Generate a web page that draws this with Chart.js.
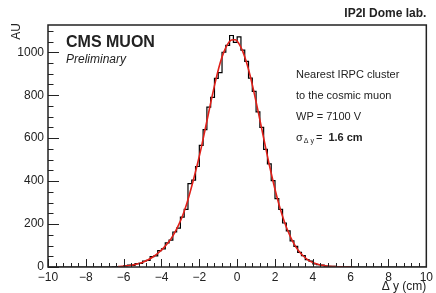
<!DOCTYPE html>
<html>
<head>
<meta charset="utf-8">
<script src="https://cdn.jsdelivr.net/npm/chart.js@4.4.1/dist/chart.umd.min.js"></script>
<style>
html, body { margin: 0; padding: 0; background: #fff; }
#wrap { width: 436px; height: 293px; position: relative; }
</style>
</head>
<body>
<div id="wrap"><canvas id="mainChart"></canvas></div>
<script>
// histogram: 100 bins of 0.2 cm from -10 to 10
const binLow = -10;
const binWidth = 0.2;
const histCounts = [
    0, 0, 0, 0, 0, 0, 0, 0, 0, 0,
    0, 0, 0, 0, 0, 0, 0, 1, 2, 1,
    5, 9, 7, 16, 17, 28, 31, 48, 52, 76,
    84, 112, 125, 163, 181, 232, 268, 388, 405, 468,
    566, 640, 745, 790, 878, 905, 1000, 1032, 1078, 1046,
    1072, 1010, 958, 880, 818, 722, 650, 548, 480, 402,
    318, 268, 205, 168, 122, 96, 68, 53, 34, 27,
    15, 11, 9, 4, 3, 3, 1, 2, 0, 1,
    0, 0, 0, 0, 0, 0, 0, 0, 0, 0,
    0, 0, 0, 0, 0, 0, 0, 0, 0, 0
];

// fitted curve, read at the bin centres from -6.3 to 6.1
const fitStart = -6.3;
const fitValues = [
    2, 3, 5, 7, 10, 14, 19, 26, 34, 44,
    56, 71, 88, 108, 131, 160, 195, 235, 285, 345,
    410, 480, 555, 638, 722, 805, 882, 950, 1002, 1038,
    1057, 1058, 1039, 1003, 951, 886, 810, 728, 643, 558,
    475, 398, 327, 264, 210, 164, 125, 94, 70, 51,
    36, 25, 17, 12, 8, 5, 3, 2, 1, 1,
    0, 0, 0
];

const xTicks = [-10, -8, -6, -4, -2, 0, 2, 4, 6, 8, 10];
const yTicks = [0, 200, 400, 600, 800, 1000];
const xMinorStep = 0.4;
const yMinorStep = 50;
const yMax = 1127;

const infoLines = ['Nearest IRPC cluster', 'to the cosmic muon', 'WP = 7100 V'];

const histPoints = histCounts.map((c, i) => ({ x: binLow + i * binWidth, y: c }));
histPoints.push({ x: binLow + histCounts.length * binWidth, y: histCounts[histCounts.length - 1] });
const fitPoints = fitValues.map((v, i) => ({ x: fitStart + i * binWidth, y: v }));

const FONT = '"Liberation Sans", Arial, Helvetica, sans-serif';
const INK = '#222';

const rootStyle = {
    id: 'rootStyle',
    afterDatasetsDraw(chart) {
        const ctx = chart.ctx;
        const a = chart.chartArea;
        const xs = chart.scales.x;
        const ys = chart.scales.y;
        ctx.save();
        ctx.strokeStyle = INK;
        ctx.lineWidth = 1;

        // inner ticks, x axis
        ctx.beginPath();
        for (let v = xs.min; v <= xs.max + 1e-6; v += xMinorStep) {
            const px = Math.round(xs.getPixelForValue(v)) + 0.5;
            const major = xTicks.some(t => Math.abs(t - v) < 1e-6);
            ctx.moveTo(px, a.bottom);
            ctx.lineTo(px, a.bottom - (major ? 8 : 4));
        }
        // inner ticks, y axis
        for (let v = 0; v <= ys.max; v += yMinorStep) {
            const py = Math.round(ys.getPixelForValue(v)) + 0.5;
            const major = yTicks.includes(v);
            ctx.moveTo(a.left, py);
            ctx.lineTo(a.left + (major ? 11 : 5.5), py);
        }
        ctx.stroke();

        // frame
        ctx.lineWidth = 1.5;
        ctx.strokeRect(a.left, a.top, a.right - a.left, a.bottom - a.top);

        ctx.fillStyle = INK;
        ctx.textBaseline = 'middle';

        // axis titles
        ctx.font = '12px ' + FONT;
        ctx.textAlign = 'right';
        ctx.fillText('\u0394 y (cm)', a.right, 287);
        ctx.save();
        ctx.translate(17, a.top - 2);
        ctx.rotate(-Math.PI / 2);
        ctx.fillText('AU', 0, 0);
        ctx.restore();

        ctx.font = 'bold 12px ' + FONT;
        ctx.fillText('IP2I Dome lab.', a.right, 14);

        ctx.textAlign = 'left';
        ctx.font = 'bold 16px ' + FONT;
        ctx.fillText('CMS MUON', 66, 43);
        ctx.font = 'italic 12px ' + FONT;
        ctx.fillText('Preliminary', 66, 60);

        ctx.font = '11px ' + FONT;
        infoLines.forEach((t, i) => ctx.fillText(t, 296, 75 + i * 21));

        // sigma line with subscript
        let x = 296;
        const y = 138;
        ctx.font = '11px ' + FONT;
        ctx.fillText('\u03c3', x, y);
        x += ctx.measureText('\u03c3').width;
        ctx.font = '7px ' + FONT;
        ctx.fillText('\u0394 y', x + 1, y + 3);
        x += ctx.measureText('\u0394 y').width + 3;
        ctx.font = '11px ' + FONT;
        ctx.fillText('= ', x, y);
        x += ctx.measureText('= ').width + 3;
        ctx.font = 'bold 11px ' + FONT;
        ctx.fillText('1.6 cm', x, y);

        ctx.restore();
    }
};

const chart = new Chart(document.getElementById('mainChart').getContext('2d'), {
    type: 'line',
    data: {
        datasets: [
            {
                label: 'fit',
                data: fitPoints,
                borderColor: '#e0201a',
                borderWidth: 1.6,
                pointRadius: 0,
                cubicInterpolationMode: 'monotone',
                order: 0
            },
            {
                label: 'hist',
                data: histPoints,
                borderColor: '#000',
                borderWidth: 1.2,
                pointRadius: 0,
                stepped: 'before',
                order: 1
            }
        ]
    },
    options: {
        responsive: true,
        maintainAspectRatio: false,
        animation: false,
        layout: { padding: { top: 25, right: 7, left: 0, bottom: 0 } },
        plugins: {
            legend: { display: false },
            tooltip: { enabled: false }
        },
        scales: {
            x: {
                type: 'linear',
                min: -10,
                max: 10,
                afterBuildTicks: s => { s.ticks = xTicks.map(v => ({ value: v })); },
                afterFit: s => { s.height = 26; },
                grid: { display: false, drawTicks: false },
                border: { display: false },
                ticks: {
                    padding: 3,
                    maxRotation: 0,
                    autoSkip: false,
                    color: INK,
                    font: { family: FONT, size: 12 },
                    callback: v => (v < 0 ? '\u2212' + Math.abs(v) : '' + v)
                }
            },
            y: {
                min: 0,
                max: yMax,
                afterBuildTicks: s => { s.ticks = yTicks.map(v => ({ value: v })); },
                afterFit: s => { s.width = 48; },
                grid: { display: false, drawTicks: false },
                border: { display: false },
                ticks: {
                    padding: 4,
                    autoSkip: false,
                    color: INK,
                    font: { family: FONT, size: 12 },
                    callback: v => '' + v
                }
            }
        }
    },
    plugins: [rootStyle]
});
</script>
</body>
</html>
